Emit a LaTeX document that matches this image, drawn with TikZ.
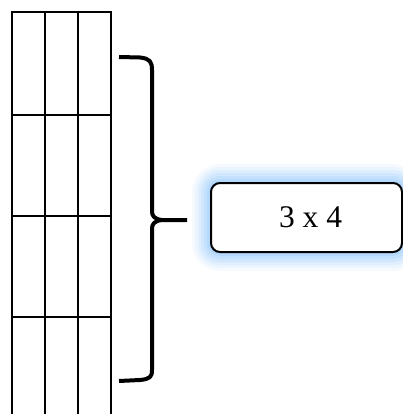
\documentclass[tikz,border=0pt]{standalone}
\usepackage{fontspec}
\setmainfont{Liberation Serif}
\begin{document}
\begin{tikzpicture}[x=1pt,y=-1pt,
  gridline/.style={line width=2pt,black},
  bracestyle/.style={line width=4pt,black,line cap=butt,line join=round},
  sizebox/.style={draw,line width=2pt,rounded corners=9pt,fill=white,
    minimum width=191pt,minimum height=69pt,inner sep=0pt,
    font=\fontsize{31.5}{36}\selectfont}]
\useasboundingbox (0,0) rectangle (403,414);
% glow
\foreach \g/\o in {19/0.08,16/0.1,13/0.13,10/0.16,7/0.2,4/0.22,2/0.22}{
  \fill[color={rgb,255:red,140;green,195;blue,250},opacity=\o,rounded corners={9pt+\g pt}]
    (211-\g,183-\g) rectangle (402+\g,252+\g);
}
% grid
\draw[gridline] (12,12) -- (12,420);
\draw[gridline] (45,12) -- (45,420);
\draw[gridline] (78,12) -- (78,420);
\draw[gridline] (111,12) -- (111,420);
\foreach \y in {12,115,216,317}{
  \draw[gridline] (11,\y) -- (112,\y);
}
% brace
\draw[bracestyle] (119,57) -- (140,57.5) .. controls (150,58.5) and (152,62) .. (152,70)
  -- (152,211) .. controls (152,216) and (154,219) .. (162,220) -- (187,220);
\draw[bracestyle] (162,220) .. controls (154,221) and (152,224) .. (152,229)
  -- (152,370) .. controls (152,377) and (150,379) .. (140,380) -- (119,381);
% box
\node[sizebox] (box) at (306.5,217.5) {\hspace*{8pt}3 x 4};
\end{tikzpicture}
\end{document}
